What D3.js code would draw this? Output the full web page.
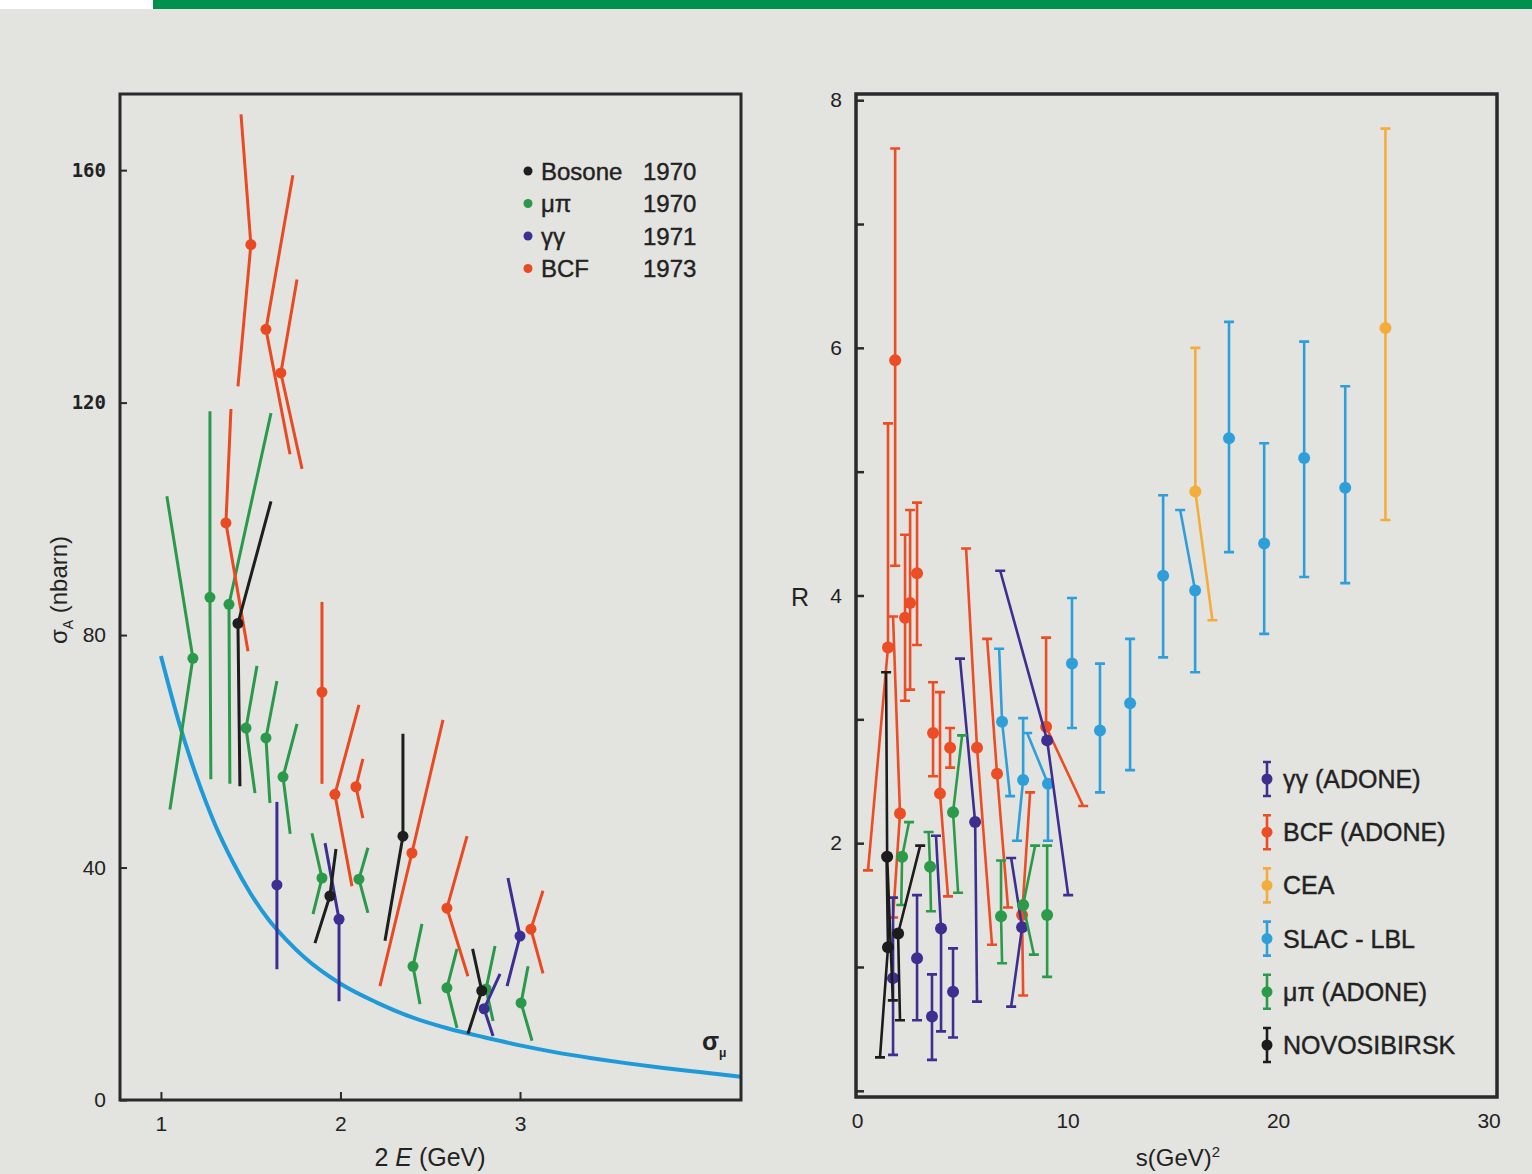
<!DOCTYPE html>
<html><head><meta charset="utf-8">
<script src="https://cdn.jsdelivr.net/npm/d3@7"></script>
<style>body{margin:0;background:#e3e3e0;} svg{display:block}</style>
</head><body>
<svg id="c" width="1532" height="1174"></svg>
<script>
// ---------- LEFT PANEL DATA: [x, y, xTop, yTop, xBottom, yBottom] (2E in GeV, sigma in nb)
const bosone1970 = [
  [1.429, 82.0, 1.613, 103.0, 1.440, 54.0],
  [2.348, 45.4, 2.348, 63.0, 2.248, 27.4],
  [1.941, 35.1, 1.975, 43.2, 1.858, 27.0],
  [2.787, 18.8, 2.736, 26.0, 2.710, 11.4]
];
const mupi1970 = [
  [1.178, 76.0, 1.033, 103.9, 1.050, 50.0],
  [1.273, 86.5, 1.273, 118.5, 1.278, 55.2],
  [1.379, 85.3, 1.613, 118.2, 1.384, 54.4],
  [1.474, 64.0, 1.535, 74.7, 1.524, 52.8],
  [1.585, 62.3, 1.646, 72.1, 1.607, 51.1],
  [1.680, 55.6, 1.758, 64.7, 1.720, 45.8],
  [1.897, 38.2, 1.841, 45.9, 1.847, 32.0],
  [2.103, 38.0, 2.153, 43.4, 2.153, 32.2],
  [2.404, 23.0, 2.454, 30.3, 2.443, 16.5],
  [2.593, 19.3, 2.649, 26.0, 2.649, 12.4],
  [2.811, 19.1, 2.861, 26.5, 2.850, 13.6],
  [3.006, 16.7, 3.045, 23.0, 3.067, 10.2]
];
const gammagamma1971 = [
  [1.646, 37.0, 1.646, 51.3, 1.646, 22.5],
  [1.992, 31.1, 1.914, 44.2, 1.992, 17.0],
  [3.000, 28.2, 2.933, 38.2, 2.928, 19.6],
  [2.800, 15.7, 2.889, 21.7, 2.850, 11.0]
];
const bcf1973 = [
  [1.501, 147.2, 1.446, 169.6, 1.429, 122.8],
  [1.585, 132.6, 1.735, 159.1, 1.719, 111.1],
  [1.668, 125.1, 1.758, 141.2, 1.786, 108.6],
  [1.362, 99.3, 1.390, 118.9, 1.485, 77.2],
  [1.897, 70.2, 1.897, 85.7, 1.897, 54.4],
  [1.969, 52.6, 2.103, 68.0, 2.064, 36.8],
  [2.086, 53.9, 2.125, 58.7, 2.125, 48.5],
  [2.398, 42.5, 2.571, 65.4, 2.220, 19.6],
  [2.593, 33.0, 2.705, 45.4, 2.710, 21.3],
  [3.061, 29.4, 3.128, 36.0, 3.128, 21.8]
];
// sigma_mu curve: [2E, sigma]
const sigmaMuCurve = [
  [1.0, 76.4],[1.1, 65],[1.2, 55.5],[1.3, 47.5],[1.4, 41],[1.5, 35.5],[1.6, 31],
  [1.7, 27.5],[1.8, 24.5],[2.0, 20.0],[2.2, 16.8],[2.4, 14.2],[2.6, 12.3],
  [2.8, 10.8],[3.0, 9.4],[3.2, 8.2],[3.4, 7.2],[3.6, 6.3],[3.8, 5.5],[4.0, 4.8],[4.23, 4.0]
];
const leftYTicks = [0, 40, 80, 120, 160];
const leftXTicks = [1, 2, 3];
const leftLegend = [["Bosone", "1970"], ["\u03bc\u03c0", "1970"], ["\u03b3\u03b3", "1971"], ["BCF", "1973"]];

// ---------- RIGHT PANEL DATA: [s, R, sTop, RTop, sBottom, RBottom]
const ggAdone = [
  [1.71, 0.91, 1.71, 1.56, 1.71, 0.29],
  [2.85, 1.07, 2.85, 1.58, 2.85, 0.57],
  [3.56, 0.60, 3.56, 0.94, 3.56, 0.25],
  [3.99, 1.31, 3.75, 2.06, 3.99, 0.48],
  [4.56, 0.80, 4.56, 1.15, 4.56, 0.43],
  [5.61, 2.17, 4.89, 3.49, 5.70, 0.72],
  [9.03, 2.83, 6.80, 4.20, 10.03, 1.58],
  [7.84, 1.32, 7.32, 1.88, 7.32, 0.68]
];
const bcfAdone = [
  [1.81, 5.90, 1.81, 7.61, 1.81, 4.24],
  [1.47, 3.58, 1.47, 5.39, 0.52, 1.78],
  [2.28, 3.82, 2.28, 4.49, 2.28, 3.15],
  [2.52, 3.94, 2.52, 4.69, 2.52, 3.24],
  [2.85, 4.18, 2.85, 4.75, 2.85, 3.60],
  [2.04, 2.24, 1.71, 3.83, 1.71, 1.40],
  [3.61, 2.89, 3.61, 3.30, 3.61, 2.54],
  [3.94, 2.40, 3.94, 3.22, 4.32, 1.57],
  [4.42, 2.77, 4.42, 2.93, 4.42, 2.61],
  [5.70, 2.77, 5.18, 4.38, 6.41, 1.18],
  [6.65, 2.56, 6.18, 3.65, 7.17, 1.48],
  [8.98, 2.94, 8.98, 3.66, 10.74, 2.30],
  [7.84, 1.42, 8.22, 2.41, 7.89, 0.77]
];
const cea = [
  [16.07, 4.84, 16.07, 6.00, 16.88, 3.80],
  [25.10, 6.16, 25.10, 7.77, 25.10, 4.61]
];
const slacLbl = [
  [10.21, 3.45, 10.21, 3.98, 10.21, 2.93],
  [11.54, 2.91, 11.54, 3.45, 11.54, 2.41],
  [12.97, 3.13, 12.97, 3.65, 12.97, 2.59],
  [14.54, 4.16, 14.54, 4.81, 14.54, 3.50],
  [16.06, 4.04, 15.35, 4.69, 16.06, 3.38],
  [17.67, 5.27, 17.67, 6.21, 17.67, 4.35],
  [19.34, 4.42, 19.34, 5.23, 19.34, 3.69],
  [21.24, 5.11, 21.24, 6.05, 21.24, 4.15],
  [23.19, 4.87, 23.19, 5.69, 23.19, 4.10],
  [6.89, 2.98, 6.75, 3.57, 7.27, 2.38],
  [7.89, 2.51, 7.89, 3.01, 7.60, 2.02],
  [9.07, 2.48, 8.08, 2.89, 9.07, 2.02]
];
const mupiAdone = [
  [2.14, 1.89, 2.47, 2.17, 2.10, 1.50],
  [3.47, 1.81, 3.40, 2.09, 3.51, 1.45],
  [4.56, 2.25, 4.99, 2.87, 4.80, 1.60],
  [6.84, 1.41, 6.84, 1.86, 6.89, 1.03],
  [7.89, 1.50, 8.46, 1.98, 8.40, 1.10],
  [9.03, 1.42, 9.03, 1.98, 9.03, 0.92]
];
const novosibirsk = [
  [1.43, 1.89, 1.38, 3.38, 1.70, 0.73],
  [1.47, 1.16, 1.40, 1.90, 1.09, 0.27],
  [1.95, 1.27, 3.00, 1.98, 2.04, 0.57]
];
const rightYTicks = [0, 1, 2, 3, 4, 5, 6, 7, 8];
const rightXTicks = [0, 10, 20, 30];
const rightLegend = ["\u03b3\u03b3 (ADONE)", "BCF (ADONE)", "CEA", "SLAC - LBL", "\u03bc\u03c0 (ADONE)", "NOVOSIBIRSK"];

// ---------- STYLE
const FONT = "'Liberation Sans', Arial, Helvetica, sans-serif";
const leftColors = {bosone: "#1e1e1e", mupi: "#2a9a4a", gg: "#3c2f94", bcf: "#ea4a22"};
const rightColors = ["#3c2f90", "#ec4d24", "#f4ad3a", "#2f9fda", "#2b9b49", "#1c1c1c"];

const svg = d3.select("#c");
svg.append("rect").attr("x", 0).attr("y", 0).attr("width", 1532).attr("height", 1174).attr("fill", "#e3e3e0");
svg.append("rect").attr("x", 0).attr("y", 0).attr("width", 153).attr("height", 9).attr("fill", "#ffffff");
svg.append("rect").attr("x", 153).attr("y", 0).attr("width", 1379).attr("height", 9).attr("fill", "#00914f");

// ---------- LEFT PANEL
const L = {x0: 120, x1: 741, y0: 94, y1: 1100};
const xL = d3.scaleLinear().domain([0.772, 4.231]).range([L.x0, L.x1]);
const yL = d3.scaleLinear().domain([0, 173.1]).range([L.y1, L.y0]);
const gL = svg.append("g");

gL.append("path").datum(sigmaMuCurve)
  .attr("d", d3.line().curve(d3.curveMonotoneX).x(d => xL(d[0])).y(d => yL(d[1])))
  .attr("fill", "none").attr("stroke", "#1f9ad8").attr("stroke-width", 4);

function drawBarsL(data, color) {
  const g = gL.append("g");
  data.forEach(d => {
    g.append("path")
      .attr("d", `M${xL(d[2])},${yL(d[3])}L${xL(d[0])},${yL(d[1])}L${xL(d[4])},${yL(d[5])}`)
      .attr("fill", "none").attr("stroke", color).attr("stroke-width", 3).attr("stroke-linejoin", "round");
  });
  g.selectAll("circle").data(data).join("circle")
    .attr("cx", d => xL(d[0])).attr("cy", d => yL(d[1])).attr("r", 5.5).attr("fill", color);
}
drawBarsL(mupi1970, leftColors.mupi);
drawBarsL(bcf1973, leftColors.bcf);
drawBarsL(gammagamma1971, leftColors.gg);
drawBarsL(bosone1970, leftColors.bosone);

gL.append("rect").attr("x", L.x0).attr("y", L.y0).attr("width", L.x1 - L.x0).attr("height", L.y1 - L.y0)
  .attr("fill", "none").attr("stroke", "#2a2a2a").attr("stroke-width", 3);

const axL = gL.append("g").attr("transform", `translate(${L.x0},0)`)
  .call(d3.axisLeft(yL).tickValues(leftYTicks).tickSize(-7).tickPadding(14));
axL.select(".domain").remove();
axL.selectAll("line").attr("stroke", "#2a2a2a").attr("stroke-width", 2);
axL.selectAll("text").attr("font-family", d => d >= 120 ? "'DejaVu Sans Mono', monospace" : FONT)
  .attr("font-weight", d => d >= 120 ? "bold" : "normal")
  .attr("font-size", d => d >= 120 ? 19 : 21).attr("fill", "#222");

const axLb = gL.append("g").attr("transform", `translate(0,${L.y1})`)
  .call(d3.axisBottom(xL).tickValues(leftXTicks).tickFormat(d3.format("d")).tickSize(-8).tickPadding(16));
axLb.select(".domain").remove();
axLb.selectAll("line").attr("stroke", "#2a2a2a").attr("stroke-width", 2);
axLb.selectAll("text").attr("font-family", FONT).attr("font-size", 21).attr("fill", "#222");

const tx = gL.append("text").attr("x", 430).attr("y", 1166).attr("text-anchor", "middle")
  .attr("font-family", FONT).attr("font-size", 25).attr("fill", "#222");
tx.append("tspan").text("2 ");
tx.append("tspan").attr("font-style", "italic").text("E");
tx.append("tspan").text(" (GeV)");

const ty = gL.append("text").attr("transform", "translate(67,590) rotate(-90)").attr("text-anchor", "middle")
  .attr("font-family", FONT).attr("font-size", 24).attr("fill", "#222");
ty.append("tspan").text("\u03c3");
ty.append("tspan").attr("font-size", 14).attr("dy", 6).text("A");
ty.append("tspan").attr("dy", -6).text(" (nbarn)");

const sm = gL.append("text").attr("x", 702).attr("y", 1050)
  .attr("font-family", FONT).attr("font-size", 25).attr("font-weight", "bold").attr("fill", "#222");
sm.append("tspan").text("\u03c3");
sm.append("tspan").attr("font-size", 12).attr("dy", 7).text("\u03bc");

const legColsL = [leftColors.bosone, leftColors.mupi, leftColors.gg, leftColors.bcf];
leftLegend.forEach((d, i) => {
  const y = 171 + i * 32.5;
  gL.append("circle").attr("cx", 528).attr("cy", y).attr("r", 4.5).attr("fill", legColsL[i]);
  gL.append("text").attr("x", 541).attr("y", y).attr("dy", "0.36em").attr("font-family", FONT)
    .attr("font-size", 24).attr("fill", "#222").attr("stroke", "#222").attr("stroke-width", 0.4).text(d[0]);
  gL.append("text").attr("x", 643).attr("y", y).attr("dy", "0.36em").attr("font-family", FONT)
    .attr("font-size", 24).attr("fill", "#222").attr("stroke", "#222").attr("stroke-width", 0.4).text(d[1]);
});

// ---------- RIGHT PANEL
const R = {x0: 856, x1: 1497, y0: 94, y1: 1097};
const xR = d3.scaleLinear().domain([-0.05, 30.4]).range([R.x0, R.x1]);
const yR = d3.scaleLinear().domain([-0.05, 8.05]).range([R.y1, R.y0]);
const gR = svg.append("g");

function drawBarsR(data, color) {
  const g = gR.append("g");
  data.forEach(d => {
    const xt = xR(d[2]), yt = yR(d[3]), xb = xR(d[4]), yb = yR(d[5]);
    g.append("path")
      .attr("d", `M${xt},${yt}L${xR(d[0])},${yR(d[1])}L${xb},${yb}`)
      .attr("fill", "none").attr("stroke", color).attr("stroke-width", 2.6).attr("stroke-linejoin", "round");
    g.append("path").attr("d", `M${xt - 5},${yt}H${xt + 5}M${xb - 5},${yb}H${xb + 5}`)
      .attr("stroke", color).attr("stroke-width", 2.6);
  });
  g.selectAll("circle").data(data).join("circle")
    .attr("cx", d => xR(d[0])).attr("cy", d => yR(d[1])).attr("r", 6).attr("fill", color);
}
drawBarsR(cea, rightColors[2]);
drawBarsR(slacLbl, rightColors[3]);
drawBarsR(bcfAdone, rightColors[1]);
drawBarsR(ggAdone, rightColors[0]);
drawBarsR(mupiAdone, rightColors[4]);
drawBarsR(novosibirsk, rightColors[5]);

gR.append("rect").attr("x", R.x0).attr("y", R.y0).attr("width", R.x1 - R.x0).attr("height", R.y1 - R.y0)
  .attr("fill", "none").attr("stroke", "#2a2a2a").attr("stroke-width", 3.5);

const axR = gR.append("g").attr("transform", `translate(${R.x0},0)`)
  .call(d3.axisLeft(yR).tickValues(rightYTicks).tickSize(-8).tickPadding(14)
    .tickFormat(d => (d > 0 && d % 2 === 0) ? d : ""));
axR.select(".domain").remove();
axR.selectAll("line").attr("stroke", "#2a2a2a").attr("stroke-width", 2.5);
axR.selectAll("text").attr("font-family", FONT).attr("font-size", 21).attr("fill", "#222");

const axRb = gR.append("g").attr("transform", `translate(0,${R.y1})`)
  .call(d3.axisBottom(xR).tickValues(rightXTicks).tickSize(0).tickPadding(16));
axRb.select(".domain").remove();
axRb.selectAll("text").attr("font-family", FONT).attr("font-size", 21).attr("fill", "#222");

gR.append("text").attr("x", 800).attr("y", 597).attr("dy", "0.36em").attr("text-anchor", "middle")
  .attr("font-family", FONT).attr("font-size", 25).attr("fill", "#222").text("R");

const txR = gR.append("text").attr("x", 1178).attr("y", 1166).attr("text-anchor", "middle")
  .attr("font-family", FONT).attr("font-size", 24).attr("fill", "#222");
txR.append("tspan").text("s(GeV)");
txR.append("tspan").attr("font-size", 15).attr("dy", -9).text("2");

rightLegend.forEach((t, i) => {
  const y = 779 + i * 53.2;
  const c = rightColors[i];
  gR.append("path").attr("d", `M1267,${y - 17}V${y + 17}M1263,${y - 17}H1271M1263,${y + 17}H1271`)
    .attr("stroke", c).attr("stroke-width", 2.6).attr("fill", "none");
  gR.append("circle").attr("cx", 1267).attr("cy", y).attr("r", 5.5).attr("fill", c);
  gR.append("text").attr("x", 1283).attr("y", y).attr("dy", "0.36em").attr("font-family", FONT)
    .attr("font-size", 25).attr("fill", "#222").attr("stroke", "#222").attr("stroke-width", 0.4).text(t);
});
</script>
</body></html>
